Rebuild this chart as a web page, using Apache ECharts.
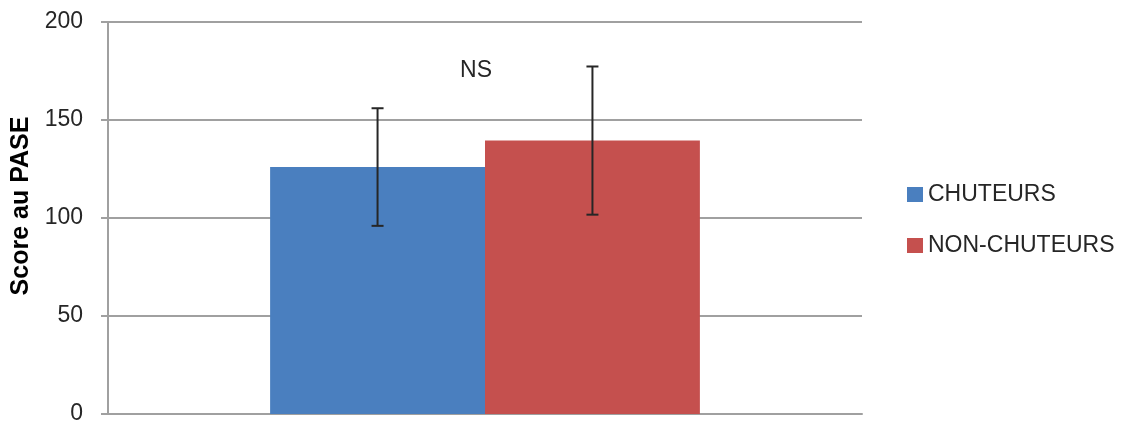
<!DOCTYPE html>
<html>
<head>
<meta charset="utf-8">
<script src="https://cdn.jsdelivr.net/npm/echarts@6/dist/echarts.min.js"></script>
<style>html,body{margin:0;padding:0;background:#fff}#c{width:1128px;height:423px}</style>
</head>
<body>
<div id="c"></div>
<script>
const categories = [''];
const seriesNames = ['CHUTEURS', 'NON-CHUTEURS'];
const means = [126, 139.5];
const sds = [30, 37.8];
const colors = ['#4a7fbf', '#c5504e'];
const yTicks = [0, 50, 100, 150, 200];
const annotationText = 'NS';
const annotationValue = 175;

const FONT = '"Liberation Sans", Arial, sans-serif';
const GAP = 0.43;

const chart = echarts.init(document.getElementById('c'), null, {renderer: 'canvas'});

const barSeries = seriesNames.map((name, i) => ({
  name: name,
  type: 'bar',
  data: [means[i]],
  itemStyle: {color: colors[i]},
  barGap: '0%',
  barCategoryGap: (GAP * 100) + '%',
  z: 2
}));

const errSeries = {
  type: 'custom',
  name: 'err',
  silent: true,
  z: 5,
  data: [[0]],
  renderItem: function (params, api) {
    const catW = api.size([1, 0])[0];
    const bw = catW * (1 - GAP) / seriesNames.length;
    const base = api.coord([0, 0]);
    const children = [];
    const startX = base[0] - bw * seriesNames.length / 2;
    for (let i = 0; i < seriesNames.length; i++) {
      const x = startX + bw * (i + 0.5);
      const top = api.coord([0, means[i] + sds[i]])[1];
      const bot = api.coord([0, means[i] - sds[i]])[1];
      const st = {stroke: '#262626', lineWidth: 2};
      children.push({type: 'line', shape: {x1: x, y1: top, x2: x, y2: bot}, style: st});
      children.push({type: 'line', shape: {x1: x - 6, y1: top, x2: x + 6, y2: top}, style: st});
      children.push({type: 'line', shape: {x1: x - 6, y1: bot, x2: x + 6, y2: bot}, style: st});
    }
    const ny = api.coord([0, annotationValue])[1];
    children.push({
      type: 'text',
      style: {
        text: annotationText, x: base[0] - 9, y: ny,
        align: 'center', verticalAlign: 'middle',
        font: '23px ' + FONT, fill: '#262626'
      }
    });
    return {type: 'group', children: children};
  }
};

chart.setOption({
  animation: false,
  grid: {left: 108, right: 266, top: 22, bottom: 9, containLabel: false, outerBoundsMode: 'none'},
  legend: {
    orient: 'vertical',
    left: 902,
    top: 178,
    itemWidth: 16,
    itemHeight: 15,
    itemGap: 28,
    itemTextGap: 9,
    icon: 'rect',
    data: seriesNames,
    textStyle: {fontFamily: FONT, fontSize: 23, color: '#262626', lineHeight: 22}
  },
  xAxis: {
    type: 'category',
    data: categories,
    axisLine: {show: true, lineStyle: {color: '#a0a0a0', width: 2}},
    axisTick: {show: false},
    axisLabel: {show: false},
    splitLine: {show: false}
  },
  yAxis: {
    type: 'value',
    min: yTicks[0],
    max: yTicks[yTicks.length - 1],
    interval: yTicks[1] - yTicks[0],
    name: 'Score au PASE',
    nameLocation: 'middle',
    nameGap: 73,
    nameRotate: 90,
    nameTextStyle: {fontFamily: FONT, fontSize: 25, fontWeight: 'bold', color: '#000', padding: [0, 0, 0, 24]},
    axisLine: {show: true, lineStyle: {color: '#a0a0a0', width: 2}},
    axisTick: {show: true, length: 7, lineStyle: {color: '#a0a0a0', width: 2}},
    axisLabel: {fontFamily: FONT, fontSize: 23, color: '#262626', margin: 25},
    splitLine: {show: true, lineStyle: {color: '#a0a0a0', width: 2}}
  },
  series: barSeries.concat([errSeries])
});
</script>
</body>
</html>
